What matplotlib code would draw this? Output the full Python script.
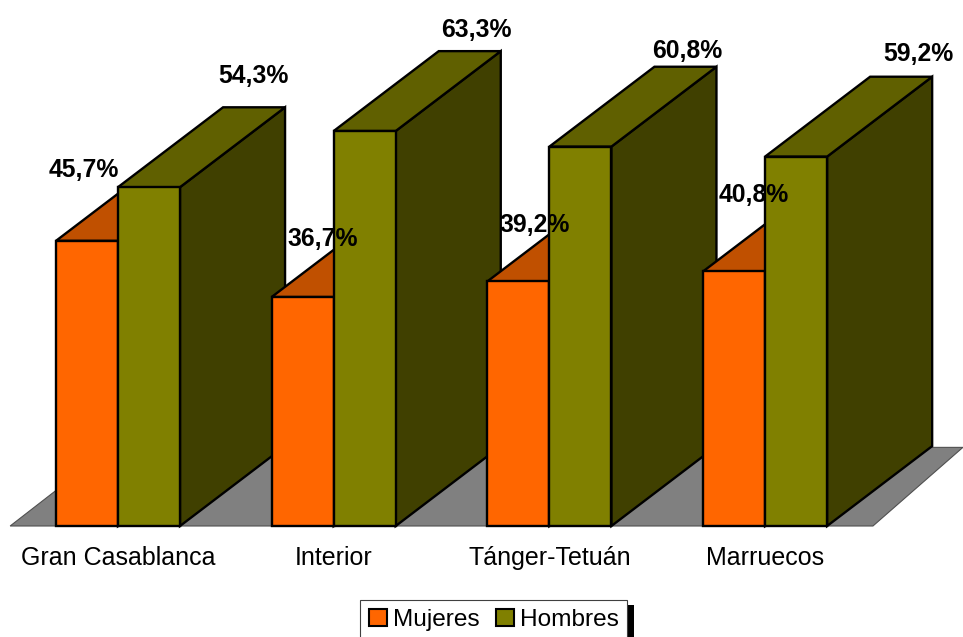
import matplotlib
matplotlib.use("Agg")
import matplotlib.pyplot as plt
from matplotlib.patches import Polygon, Patch, Rectangle

plt.rcParams['font.family'] = ['Liberation Sans', 'DejaVu Sans']

regiones = ["Gran Casablanca", "Interior", "Tánger-Tetuán", "Marruecos"]
mujeres = [45.7, 36.7, 39.2, 40.8]
hombres = [54.3, 63.3, 60.8, 59.2]
etiquetas_muj = ["45,7%", "36,7%", "39,2%", "40,8%"]
etiquetas_hom = ["54,3%", "63,3%", "60,8%", "59,2%"]

# colores: frente, arriba, lado
col_muj = ("#FF6600", "#C05000", "#A04000")
col_hom = ("#808000", "#606000", "#404000")

# desplazamiento de las etiquetas (pixeles, respecto al centro superior de la barra)
off_muj = [(-3, 64), (20, 51), (16, 49), (20, 69)]
off_hom = [(104, 104), (112, 94), (107, 89), (122, 96)]

W, H = 963, 637
fig = plt.figure(figsize=(W / 100, H / 100), dpi=100)
ax = fig.add_axes([0, 0, 1, 1])
ax.set_xlim(-118 / 215.7, (W - 118) / 215.7)
ax.set_ylim((526 - H) / 6.24, 526 / 6.24)
ax.axis('off')

bw = 0.2875
dx, dy = 0.487, 12.8
lw = 1.7
z = [1]


def bar3d(x0, v, cols):
    ax.add_patch(Polygon([(x0 + bw, 0), (x0 + bw, v), (x0 + bw + dx, v + dy), (x0 + bw + dx, dy)],
                         closed=True, fc=cols[2], ec='black', lw=lw, zorder=z[0]))
    ax.add_patch(Polygon([(x0, v), (x0 + bw, v), (x0 + bw + dx, v + dy), (x0 + dx, v + dy)],
                         closed=True, fc=cols[1], ec='black', lw=lw, zorder=z[0] + 0.1))
    ax.bar(x0, v, width=bw, align='edge', color=cols[0], edgecolor='black', lw=lw, zorder=z[0] + 0.2)
    z[0] += 1


# suelo
n = len(regiones)
ax.add_patch(Polygon([(-0.5, 0), (n - 0.5, 0), (n - 0.083, 12.6), (-0.03, 12.6)],
                     closed=True, fc='#808080', ec='#505050', lw=0.8, zorder=0))

for i in range(n):
    bar3d(i - bw, mujeres[i], col_muj)
    bar3d(i, hombres[i], col_hom)

for i in range(n):
    ax.annotate(etiquetas_muj[i], (i - bw / 2, mujeres[i]), xytext=off_muj[i],
                textcoords='offset pixels', ha='center', va='baseline',
                fontsize=17.8, fontweight='bold', zorder=50)
    ax.annotate(etiquetas_hom[i], (i + bw / 2, hombres[i]), xytext=off_hom[i],
                textcoords='offset pixels', ha='center', va='baseline',
                fontsize=17.8, fontweight='bold', zorder=50)
    ax.text(i, -6.25, regiones[i], ha='center', va='baseline', fontsize=18)

handles = [Patch(fc=col_muj[0], ec='black', lw=1.5, label="Mujeres"),
           Patch(fc=col_hom[0], ec='black', lw=1.5, label="Hombres")]
leg = fig.legend(handles=handles, loc='upper left', bbox_to_anchor=(360 / W, 1 - 600 / H),
                 ncol=2, fontsize=17.6, frameon=True, fancybox=False, edgecolor='#404040',
                 framealpha=1, borderpad=0.35, handlelength=0.75, handleheight=0.75,
                 handletextpad=0.25, columnspacing=0.65, borderaxespad=0)
leg.get_frame().set_linewidth(0.8)
leg.set_zorder(5)
fig.add_artist(Rectangle((366 / W, 0), (634 - 366) / W, (H - 605) / H, transform=fig.transFigure,
                         fc='black', ec='none', zorder=4))

fig.savefig("out.png", dpi=100)
